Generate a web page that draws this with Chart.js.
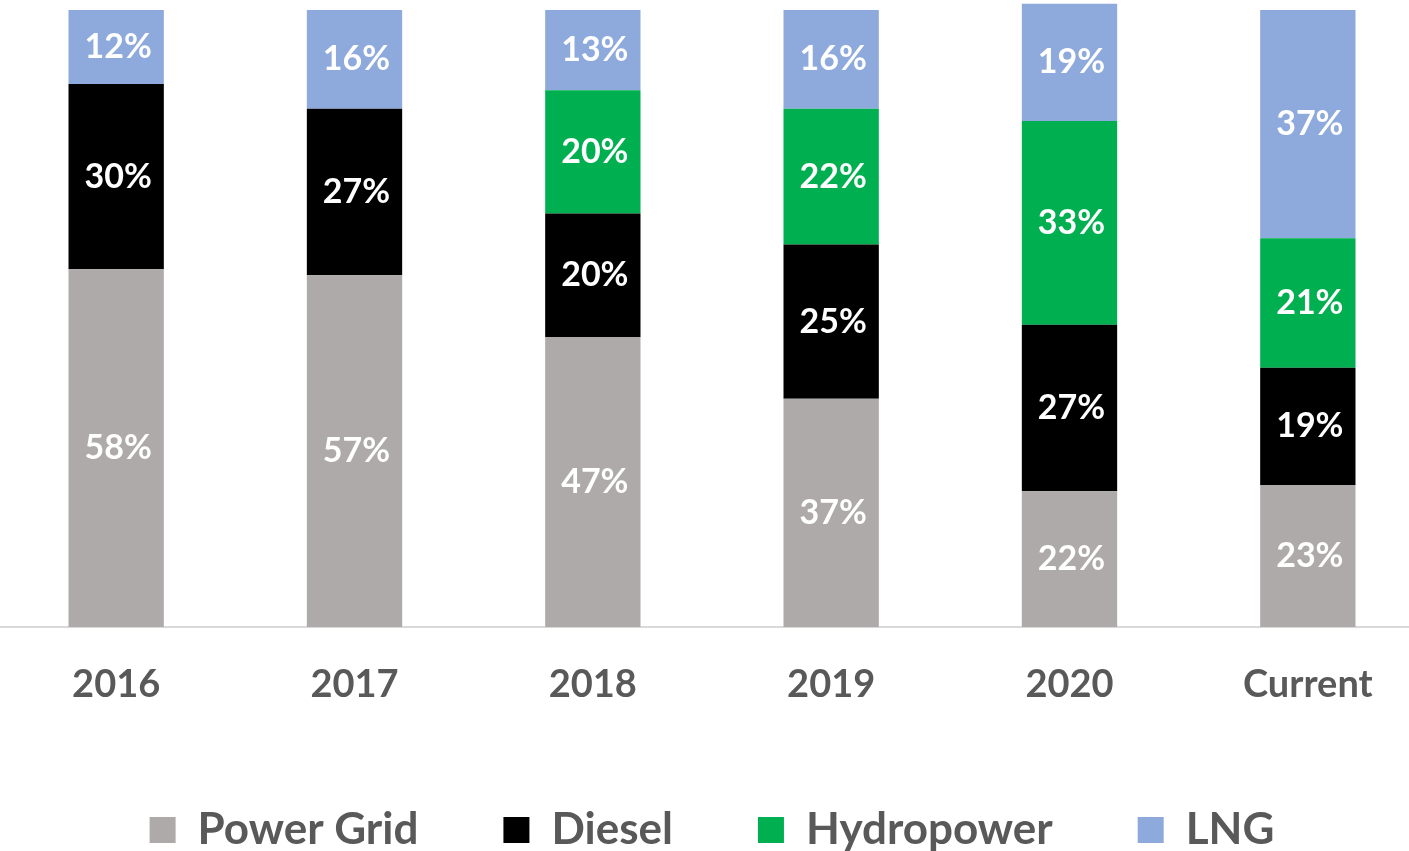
<!DOCTYPE html>
<html>
<head>
<meta charset="utf-8">
<script src="https://cdn.jsdelivr.net/npm/chart.js@4"></script>
<style>
  html, body { margin: 0; padding: 0; background: #fff; overflow: hidden; }
  #wrap { position: absolute; left: -3px; top: 0; width: 1430px; height: 862px; }
</style>
</head>
<body>
<div id="wrap"><canvas id="chartMix"></canvas></div>
<script>
// ── data ──
const CATEGORIES = ['2016', '2017', '2018', '2019', '2020', 'Current'];
const POWER_GRID = [58, 57, 47, 37, 22, 23];
const DIESEL     = [30, 27, 20, 25, 27, 19];
const HYDRO      = [0, 0, 20, 22, 33, 21];
const LNG        = [12, 16, 13, 16, 19, 37];

const COL = { grid: '#AEAAAA', diesel: '#000000', hydro: '#00B050', lng: '#8EA9DB' };
const FONT = "Lato, 'Open Sans', sans-serif";

// white % labels in the middle of every segment
const segLabels = {
  id: 'segLabels',
  afterDatasetsDraw(chart) {
    const { ctx } = chart;
    ctx.save();
    ctx.font = `bold 34px ${FONT}`;
    ctx.fillStyle = '#fff';
    ctx.textAlign = 'center';
    ctx.textBaseline = 'middle';
    chart.data.datasets.forEach((ds, i) => {
      const meta = chart.getDatasetMeta(i);
      meta.data.forEach((bar, j) => {
        const v = ds.data[j];
        if (!v) return;
        ctx.fillText(Math.round(v) + '%', bar.x + 2, (bar.y + bar.base) / 2);
      });
    });
    ctx.restore();
  }
};

new Chart(document.getElementById('chartMix'), {
  type: 'bar',
  data: {
    labels: CATEGORIES,
    datasets: [
      { label: 'Power Grid', data: POWER_GRID, backgroundColor: COL.grid },
      { label: 'Diesel',     data: DIESEL,     backgroundColor: COL.diesel },
      { label: 'Hydropower', data: HYDRO,      backgroundColor: COL.hydro },
      { label: 'LNG',        data: LNG,        backgroundColor: COL.lng },
    ].map(d => ({ ...d, borderWidth: 0, categoryPercentage: 0.4, barPercentage: 1, clip: false })),
  },
  options: {
    responsive: true,
    maintainAspectRatio: false,
    animation: false,
    layout: { padding: { top: 10, left: 0, right: 0, bottom: 0 } },
    plugins: {
      legend: {
        position: 'bottom',
        labels: {
          boxWidth: 26,
          boxHeight: 26,
          padding: 85,
          color: '#595959',
          font: { family: FONT, size: 44, weight: 'bold' },
        },
      },
      tooltip: { enabled: false },
    },
    scales: {
      x: {
        stacked: true,
        grid: { display: false, drawTicks: false },
        border: { display: true, color: '#D9D9D9', width: 2 },
        ticks: { color: '#595959', padding: 35, font: { family: FONT, size: 38, weight: 'bold' } },
        afterFit: axis => { axis.height = 96; },
      },
      y: {
        stacked: true,
        display: false,
        min: 0,
        max: 100,
      },
    },
  },
  plugins: [segLabels],
});
</script>
</body>
</html>
